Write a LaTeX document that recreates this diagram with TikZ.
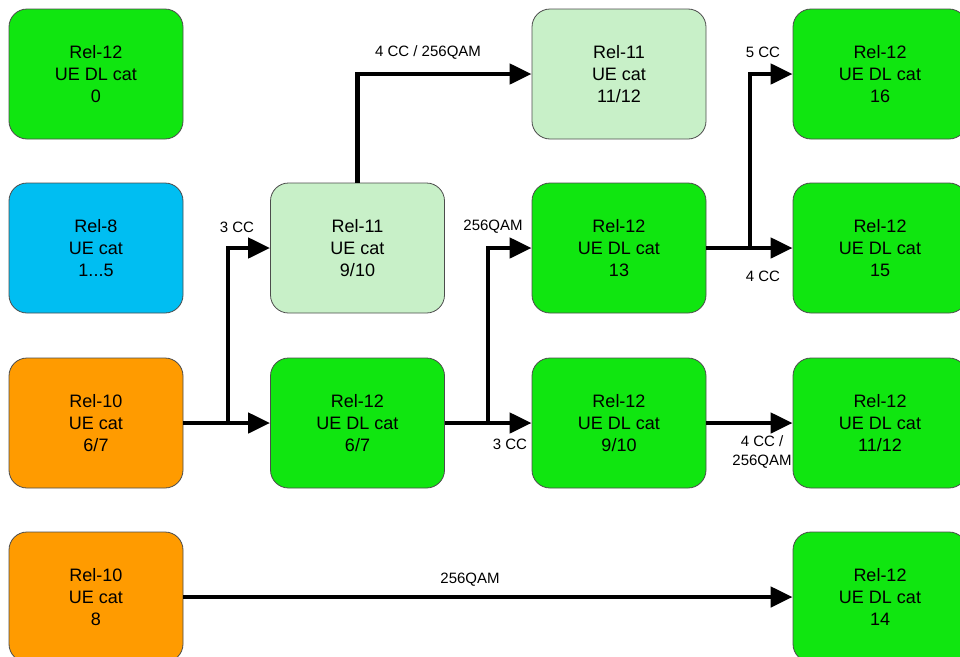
\documentclass[tikz,border=0pt]{standalone}
\usepackage{fontspec}
\setmainfont{Liberation Sans}
\usetikzlibrary{arrows.meta}
\definecolor{catgreen}{RGB}{16,230,16}
\definecolor{catlight}{RGB}{200,240,200}
\definecolor{catblue}{RGB}{0,190,242}
\definecolor{catorange}{RGB}{255,155,0}
\begin{document}
\begin{tikzpicture}[x=1pt,y=-1pt,
    cat/.style={draw=black!70,line width=0.8pt,rounded corners=18pt,minimum width=174pt,minimum height=130pt,align=center,font=\fontsize{18}{22}\selectfont},
    arr/.style={-{Triangle[length=22pt,width=20pt]},line width=4.5pt},
    lbl/.style={font=\fontsize{15}{19}\selectfont,align=center,inner sep=0pt}]
    \useasboundingbox(0,0)rectangle(960,656);
    \clip(0,0)rectangle(960,656);

    \node[cat,fill=catgreen](c0)at(96,74){Rel-12\\UE DL cat\\0};
    \node[cat,fill=catblue](c15)at(96,248){Rel-8\\UE cat\\1...5};
    \node[cat,fill=catorange](c67)at(96,423){Rel-10\\UE cat\\6/7};
    \node[cat,fill=catorange](c8)at(96,597){Rel-10\\UE cat\\8};
    \node[cat,fill=catlight](c910)at(357.5,248){Rel-11\\UE cat\\9/10};
    \node[cat,fill=catgreen](dl67)at(357.5,423){Rel-12\\UE DL cat\\6/7};
    \node[cat,fill=catlight](c1112)at(619,74){Rel-11\\UE cat\\11/12};
    \node[cat,fill=catgreen](dl13)at(619,248){Rel-12\\UE DL cat\\13};
    \node[cat,fill=catgreen](dl910)at(619,423){Rel-12\\UE DL cat\\9/10};
    \node[cat,fill=catgreen](dl16)at(880,74){Rel-12\\UE DL cat\\16};
    \node[cat,fill=catgreen](dl15)at(880,248){Rel-12\\UE DL cat\\15};
    \node[cat,fill=catgreen](dl1112)at(880,423){Rel-12\\UE DL cat\\11/12};
    \node[cat,fill=catgreen](dl14)at(880,597){Rel-12\\UE DL cat\\14};

    \coordinate(fork1)at(228,423);
    \coordinate(fork2)at(488,423);
    \coordinate(fork3)at(750,248);

    \draw[arr](c67.east)--(dl67.west);
    \draw[arr](fork1)|-(c910.west);
    \draw[arr](c910.north)|-(c1112.west);
    \draw[arr](dl67.east)--(dl910.west);
    \draw[arr](fork2)|-(dl13.west);
    \draw[arr](dl13.east)--(dl15.west);
    \draw[arr](fork3)|-(dl16.west);
    \draw[arr](dl910.east)--(dl1112.west);
    \draw[arr](c8.east)--(dl14.west);

    \node[lbl](l3cca)at(237,227){3 CC};
    \node[lbl](l4cca)at(428,52){4 CC / 256QAM};
    \node[lbl](lqama)at(493,227){256QAM};
    \node[lbl](l3ccb)at(510,444){3 CC};
    \node[lbl](l5cc)at(763,52){5 CC};
    \node[lbl](l4ccb)at(763,276){4 CC};
    \node[lbl](l4ccc)at(762,452){4 CC /\\256QAM};
    \node[lbl](lqamb)at(470,580){256QAM};
\end{tikzpicture}
\end{document}
